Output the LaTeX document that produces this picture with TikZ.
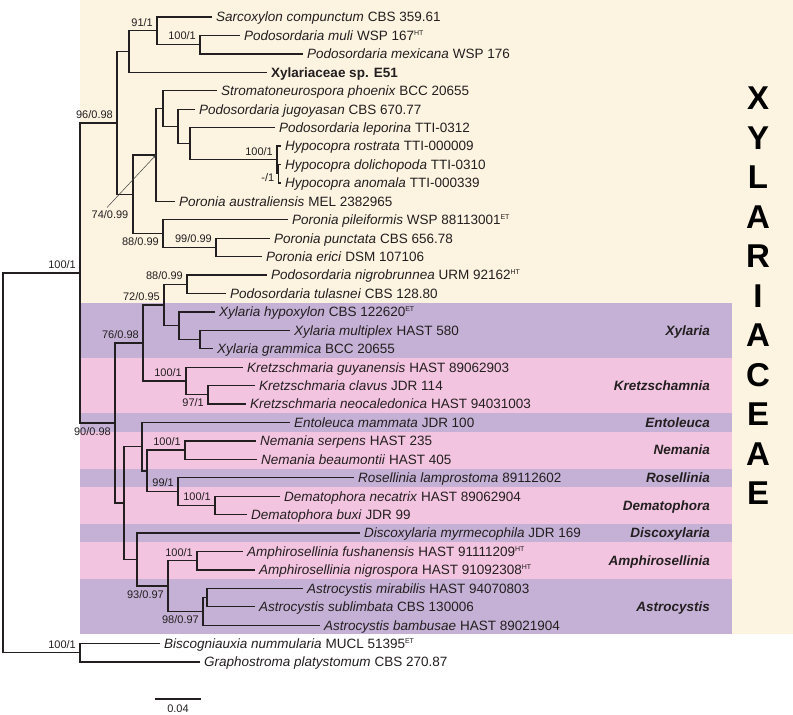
\documentclass[tikz,border=0pt]{standalone}
\usepackage{fontspec}
\setmainfont{Liberation Sans}
\usetikzlibrary{arrows.meta}
\definecolor{beigebg}{RGB}{252,243,224}
\definecolor{purpband}{RGB}{197,177,213}
\definecolor{pinkband}{RGB}{243,196,223}
\definecolor{linec}{RGB}{35,31,32}
\newcommand\leaffont{\fontsize{13.5}{16}\selectfont}
\newcommand\supfont{\fontsize{11}{13}\selectfont}
\newcommand\typ[1]{\textsuperscript{\fontsize{7}{7}\selectfont #1}}
\tikzset{
  br/.style={line width=1.35pt, draw=linec},
  leaf/.style={anchor=west, inner xsep=4pt, inner ysep=0pt, text height=9.7pt, text depth=0pt, font=\leaffont, text=linec},
  supA/.style={anchor=south east, inner sep=0pt, text height=7.9pt, text depth=0pt, font=\supfont, xshift=-4pt, yshift=4.5pt, text=linec},
  supB/.style={anchor=north east, inner sep=0pt, text height=7.9pt, text depth=0pt, font=\supfont, xshift=-4pt, yshift=-4pt, text=linec},
  clade/.style={anchor=east, inner sep=0pt, text height=9.7pt, text depth=0pt, font=\leaffont\bfseries\itshape, text=linec},
  bigletter/.style={anchor=center, inner sep=0pt, text height=23.6pt, text depth=0pt, font=\fontsize{33}{36}\selectfont\bfseries, text=black}
}
\begin{document}
\begin{tikzpicture}[x=1pt,y=-1pt]
\useasboundingbox (0,0) rectangle (793,715);
% backgrounds
\fill[beigebg] (80,0) rectangle (793,634.4);
\fill[purpband] (80,302.7) rectangle (732,358);
\fill[pinkband] (80,358) rectangle (732,413.2);
\fill[purpband] (80,413.2) rectangle (732,431.7);
\fill[pinkband] (80,431.7) rectangle (732,468.6);
\fill[purpband] (80,468.6) rectangle (732,487);
\fill[pinkband] (80,487) rectangle (732,523.8);
\fill[purpband] (80,523.8) rectangle (732,542.3);
\fill[pinkband] (80,542.3) rectangle (732,579.1);
\fill[purpband] (80,579.1) rectangle (732,634.4);

% leaf end coordinates
\coordinate (L1) at (212,17.0);
\coordinate (L2) at (240,35.4);
\coordinate (L3) at (303,53.9);
\coordinate (L4) at (267,72.3);
\coordinate (L5) at (217,90.7);
\coordinate (L6) at (195,109.2);
\coordinate (L7) at (275,127.6);
\coordinate (L8) at (281,146.0);
\coordinate (L9) at (281,164.4);
\coordinate (L10) at (281,182.9);
\coordinate (L11) at (175,201.3);
\coordinate (L12) at (288,219.7);
\coordinate (L13) at (270,238.2);
\coordinate (L14) at (262,256.6);
\coordinate (L15) at (267,275.0);
\coordinate (L16) at (226,293.5);
\coordinate (L17) at (215,311.9);
\coordinate (L18) at (290,330.3);
\coordinate (L19) at (213,348.7);
\coordinate (L20) at (243,367.2);
\coordinate (L21) at (255,385.6);
\coordinate (L22) at (246,404.0);
\coordinate (L23) at (290,422.5);
\coordinate (L24) at (256,440.9);
\coordinate (L25) at (257,459.3);
\coordinate (L26) at (354,477.8);
\coordinate (L27) at (280,496.2);
\coordinate (L28) at (247,514.6);
\coordinate (L29) at (360,533.0);
\coordinate (L30) at (243,551.5);
\coordinate (L31) at (255,569.9);
\coordinate (L32) at (303,588.3);
\coordinate (L33) at (255,606.8);
\coordinate (L34) at (320,625.2);
\coordinate (L35) at (160,643.6);
\coordinate (L36) at (200,662.0);

% internal nodes
\coordinate (N3) at (200,44.65);
\coordinate (N2) at (157,30.8);
\coordinate (N1) at (129,51.55);
\coordinate (HB) at (278.5,173.65);
\coordinate (HA) at (277,159.8);
\coordinate (Nlep) at (190,143.7);
\coordinate (Njug) at (178,126.45);
\coordinate (Nstr) at (163,108.6);
\coordinate (N5) at (156,154.95);
\coordinate (N7) at (216,247.4);
\coordinate (N6) at (163,233.55);
\coordinate (N4) at (133,194.25);
\coordinate (NU) at (117,122.9);
\coordinate (N11) at (187,284.25);
\coordinate (N13) at (200,339.5);
\coordinate (N12) at (179,325.7);
\coordinate (N10) at (164,305);
\coordinate (N15) at (208,394.8);
\coordinate (N14) at (186,381);
\coordinate (N9) at (143,343);
\coordinate (N19) at (185,450.1);
\coordinate (ND) at (215,505.4);
\coordinate (N20) at (178,491.6);
\coordinate (N18) at (147,470.85);
\coordinate (N17) at (142,446.7);
\coordinate (N23) at (197,560.7);
\coordinate (N25) at (207,597.55);
\coordinate (N24) at (203,611.4);
\coordinate (N22) at (168,586.05);
\coordinate (N21) at (137,559.5);
\coordinate (N16) at (124,503.1);
\coordinate (N8) at (115,423.05);
\coordinate (N0) at (80,273);
\coordinate (NO) at (80,652.8);
\coordinate (NR) at (3,462.9);

% branches
\draw[br] (N3) |- (L2); \draw[br] (N3) |- (L3);
\draw[br] (N2) |- (L1); \draw[br] (N2) |- (N3);
\draw[br] (N1) |- (N2); \draw[br] (N1) |- (L4);
\draw[br] (HB) |- (L9); \draw[br] (HB) |- (L10);
\draw[br] (HA) |- (L8); \draw[br] (HA) |- (HB);
\draw[br] (Nlep) |- (L7); \draw[br] (Nlep) |- (HA);
\draw[br] (Njug) |- (L6); \draw[br] (Njug) |- (Nlep);
\draw[br] (Nstr) |- (L5); \draw[br] (Nstr) |- (Njug);
\draw[br] (N5) |- (Nstr); \draw[br] (N5) |- (L11);
\draw[br] (N7) |- (L13); \draw[br] (N7) |- (L14);
\draw[br] (N6) |- (L12); \draw[br] (N6) |- (N7);
\draw[br] (N4) |- (N5); \draw[br] (N4) |- (N6);
\draw[br] (NU) |- (N1); \draw[br] (NU) |- (N4);
\draw[br] (N11) |- (L15); \draw[br] (N11) |- (L16);
\draw[br] (N13) |- (L18); \draw[br] (N13) |- (L19);
\draw[br] (N12) |- (L17); \draw[br] (N12) |- (N13);
\draw[br] (N10) |- (N11); \draw[br] (N10) |- (N12);
\draw[br] (N15) |- (L21); \draw[br] (N15) |- (L22);
\draw[br] (N14) |- (L20); \draw[br] (N14) |- (N15);
\draw[br] (N9) |- (N10); \draw[br] (N9) |- (N14);
\draw[br] (N19) |- (L24); \draw[br] (N19) |- (L25);
\draw[br] (ND) |- (L27); \draw[br] (ND) |- (L28);
\draw[br] (N20) |- (L26); \draw[br] (N20) |- (ND);
\draw[br] (N18) |- (N19); \draw[br] (N18) |- (N20);
\draw[br] (N17) |- (L23); \draw[br] (N17) |- (N18);
\draw[br] (N23) |- (L30); \draw[br] (N23) |- (L31);
\draw[br] (N25) |- (L32); \draw[br] (N25) |- (L33);
\draw[br] (N24) |- (N25); \draw[br] (N24) |- (L34);
\draw[br] (N22) |- (N23); \draw[br] (N22) |- (N24);
\draw[br] (N21) |- (L29); \draw[br] (N21) |- (N22);
\draw[br] (N16) |- (N17); \draw[br] (N16) |- (N21);
\draw[br] (N8) |- (N9); \draw[br] (N8) |- (N16);
\draw[br] (N0) |- (NU); \draw[br] (N0) |- (N8);
\draw[br] (NO) |- (L35); \draw[br] (NO) |- (L36);
\draw[br] (NR) |- (N0); \draw[br] (NR) |- (NO);

% leaf labels
\node[leaf] (t1) at (L1) {\textit{Sarcoxylon compunctum} CBS 359.61};
\node[leaf] (t2) at (L2) {\textit{Podosordaria muli} WSP 167\typ{HT}};
\node[leaf] (t3) at (L3) {\textit{Podosordaria mexicana} WSP 176};
\node[leaf] (t4) at (L4) {\textbf{Xylariaceae sp. E51}};
\node[leaf] (t5) at (L5) {\textit{Stromatoneurospora phoenix} BCC 20655};
\node[leaf] (t6) at (L6) {\textit{Podosordaria jugoyasan} CBS 670.77};
\node[leaf] (t7) at (L7) {\textit{Podosordaria leporina} TTI-0312};
\node[leaf] (t8) at (L8) {\textit{Hypocopra rostrata} TTI-000009};
\node[leaf] (t9) at (L9) {\textit{Hypocopra dolichopoda} TTI-0310};
\node[leaf] (t10) at (L10) {\textit{Hypocopra anomala} TTI-000339};
\node[leaf] (t11) at (L11) {\textit{Poronia australiensis} MEL 2382965};
\node[leaf] (t12) at (L12) {\textit{Poronia pileiformis} WSP 88113001\typ{ET}};
\node[leaf] (t13) at (L13) {\textit{Poronia punctata} CBS 656.78};
\node[leaf] (t14) at (L14) {\textit{Poronia erici} DSM 107106};
\node[leaf] (t15) at (L15) {\textit{Podosordaria nigrobrunnea} URM 92162\typ{HT}};
\node[leaf] (t16) at (L16) {\textit{Podosordaria tulasnei} CBS 128.80};
\node[leaf] (t17) at (L17) {\textit{Xylaria hypoxylon} CBS 122620\typ{ET}};
\node[leaf] (t18) at (L18) {\textit{Xylaria multiplex} HAST 580};
\node[leaf] (t19) at (L19) {\textit{Xylaria grammica} BCC 20655};
\node[leaf] (t20) at (L20) {\textit{Kretzschmaria guyanensis} HAST 89062903};
\node[leaf] (t21) at (L21) {\textit{Kretzschmaria clavus} JDR 114};
\node[leaf] (t22) at (L22) {\textit{Kretzschmaria neocaledonica} HAST 94031003};
\node[leaf] (t23) at (L23) {\textit{Entoleuca mammata} JDR 100};
\node[leaf] (t24) at (L24) {\textit{Nemania serpens} HAST 235};
\node[leaf] (t25) at (L25) {\textit{Nemania beaumontii} HAST 405};
\node[leaf] (t26) at (L26) {\textit{Rosellinia lamprostoma} 89112602};
\node[leaf] (t27) at (L27) {\textit{Dematophora necatrix} HAST 89062904};
\node[leaf] (t28) at (L28) {\textit{Dematophora buxi} JDR 99};
\node[leaf] (t29) at (L29) {\textit{Discoxylaria myrmecophila} JDR 169};
\node[leaf] (t30) at (L30) {\textit{Amphirosellinia fushanensis} HAST 91111209\typ{HT}};
\node[leaf] (t31) at (L31) {\textit{Amphirosellinia nigrospora} HAST 91092308\typ{HT}};
\node[leaf] (t32) at (L32) {\textit{Astrocystis mirabilis} HAST 94070803};
\node[leaf] (t33) at (L33) {\textit{Astrocystis sublimbata} CBS 130006};
\node[leaf] (t34) at (L34) {\textit{Astrocystis bambusae} HAST 89021904};
\node[leaf] (t35) at (L35) {\textit{Biscogniauxia nummularia} MUCL 51395\typ{ET}};
\node[leaf] (t36) at (L36) {\textit{Graphostroma platystomum} CBS 270.87};

% support values
\node[supA] (s1) at (N2) {91/1};
\node[supA] (s2) at (N3) {100/1};
\node[supA] (s3) at (NU) {96/0.98};
\node[supA] (s4) at (HA) {100/1};
\node[supB, yshift=4pt] (s5) at (HB) {-/1};
\node[supB] (s6) at (N6) {88/0.99};
\node[supA] (s7) at (N7) {99/0.99};
\node[supA] (s8) at (N0) {100/1};
\node[supA] (s9) at (N11) {88/0.99};
\node[supA] (s10) at (N10) {72/0.95};
\node[supA] (s11) at (N9) {76/0.98};
\node[supA] (s12) at (N14) {100/1};
\node[supB] (s13) at (N15) {97/1};
\node[supB] (s14) at (N8) {90/0.98};
\node[supA] (s15) at (N19) {100/1};
\node[supA] (s16) at (N20) {99/1};
\node[supA] (s17) at (ND) {100/1};
\node[supA] (s18) at (N23) {100/1};
\node[supB] (s19) at (N22) {93/0.97};
\node[supB] (s20) at (N24) {98/0.97};
\node[supA] (s21) at (NO) {100/1};
\node[anchor=center, inner sep=0pt, text height=7.9pt, text depth=0pt, font=\supfont, text=linec] (s22) at (110,215) {74/0.99};
\coordinate (a74) at (107,207.5);
\draw[line width=0.5pt, draw=black!75, -{Stealth[length=3.5pt,width=2.5pt]}] (a74) -- (N5);

% clade labels
\node[clade] (c1) at (710,330.3) {Xylaria};
\node[clade] (c2) at (710,385.6) {Kretzschamnia};
\node[clade] (c3) at (710,422.5) {Entoleuca};
\node[clade] (c4) at (710,450.1) {Nemania};
\node[clade] (c5) at (710,477.8) {Rosellinia};
\node[clade] (c6) at (710,505.4) {Dematophora};
\node[clade] (c7) at (710,533.0) {Discoxylaria};
\node[clade] (c8) at (710,560.7) {Amphirosellinia};
\node[clade] (c9) at (710,606.8) {Astrocystis};

% family label
\node[bigletter] (b1) at (758,98) {X};
\node[bigletter] (b2) at (758,137.5) {Y};
\node[bigletter] (b3) at (758,177) {L};
\node[bigletter] (b4) at (758,216.5) {A};
\node[bigletter] (b5) at (758,256) {R};
\node[bigletter] (b6) at (758,295.5) {I};
\node[bigletter] (b7) at (758,335) {A};
\node[bigletter] (b8) at (758,374.5) {C};
\node[bigletter] (b9) at (758,414) {E};
\node[bigletter] (b10) at (758,453.5) {A};
\node[bigletter] (b11) at (758,493) {E};

% scale bar
\coordinate (sb1) at (155,699);
\coordinate (sb2) at (201,699);
\draw[line width=1.2pt, draw=linec] (sb1) -- (sb2);
\node[anchor=center, inner sep=0pt, text height=7.9pt, text depth=0pt, font=\supfont, text=linec] (sbl) at (178,708.5) {0.04};
\end{tikzpicture}
\end{document}
